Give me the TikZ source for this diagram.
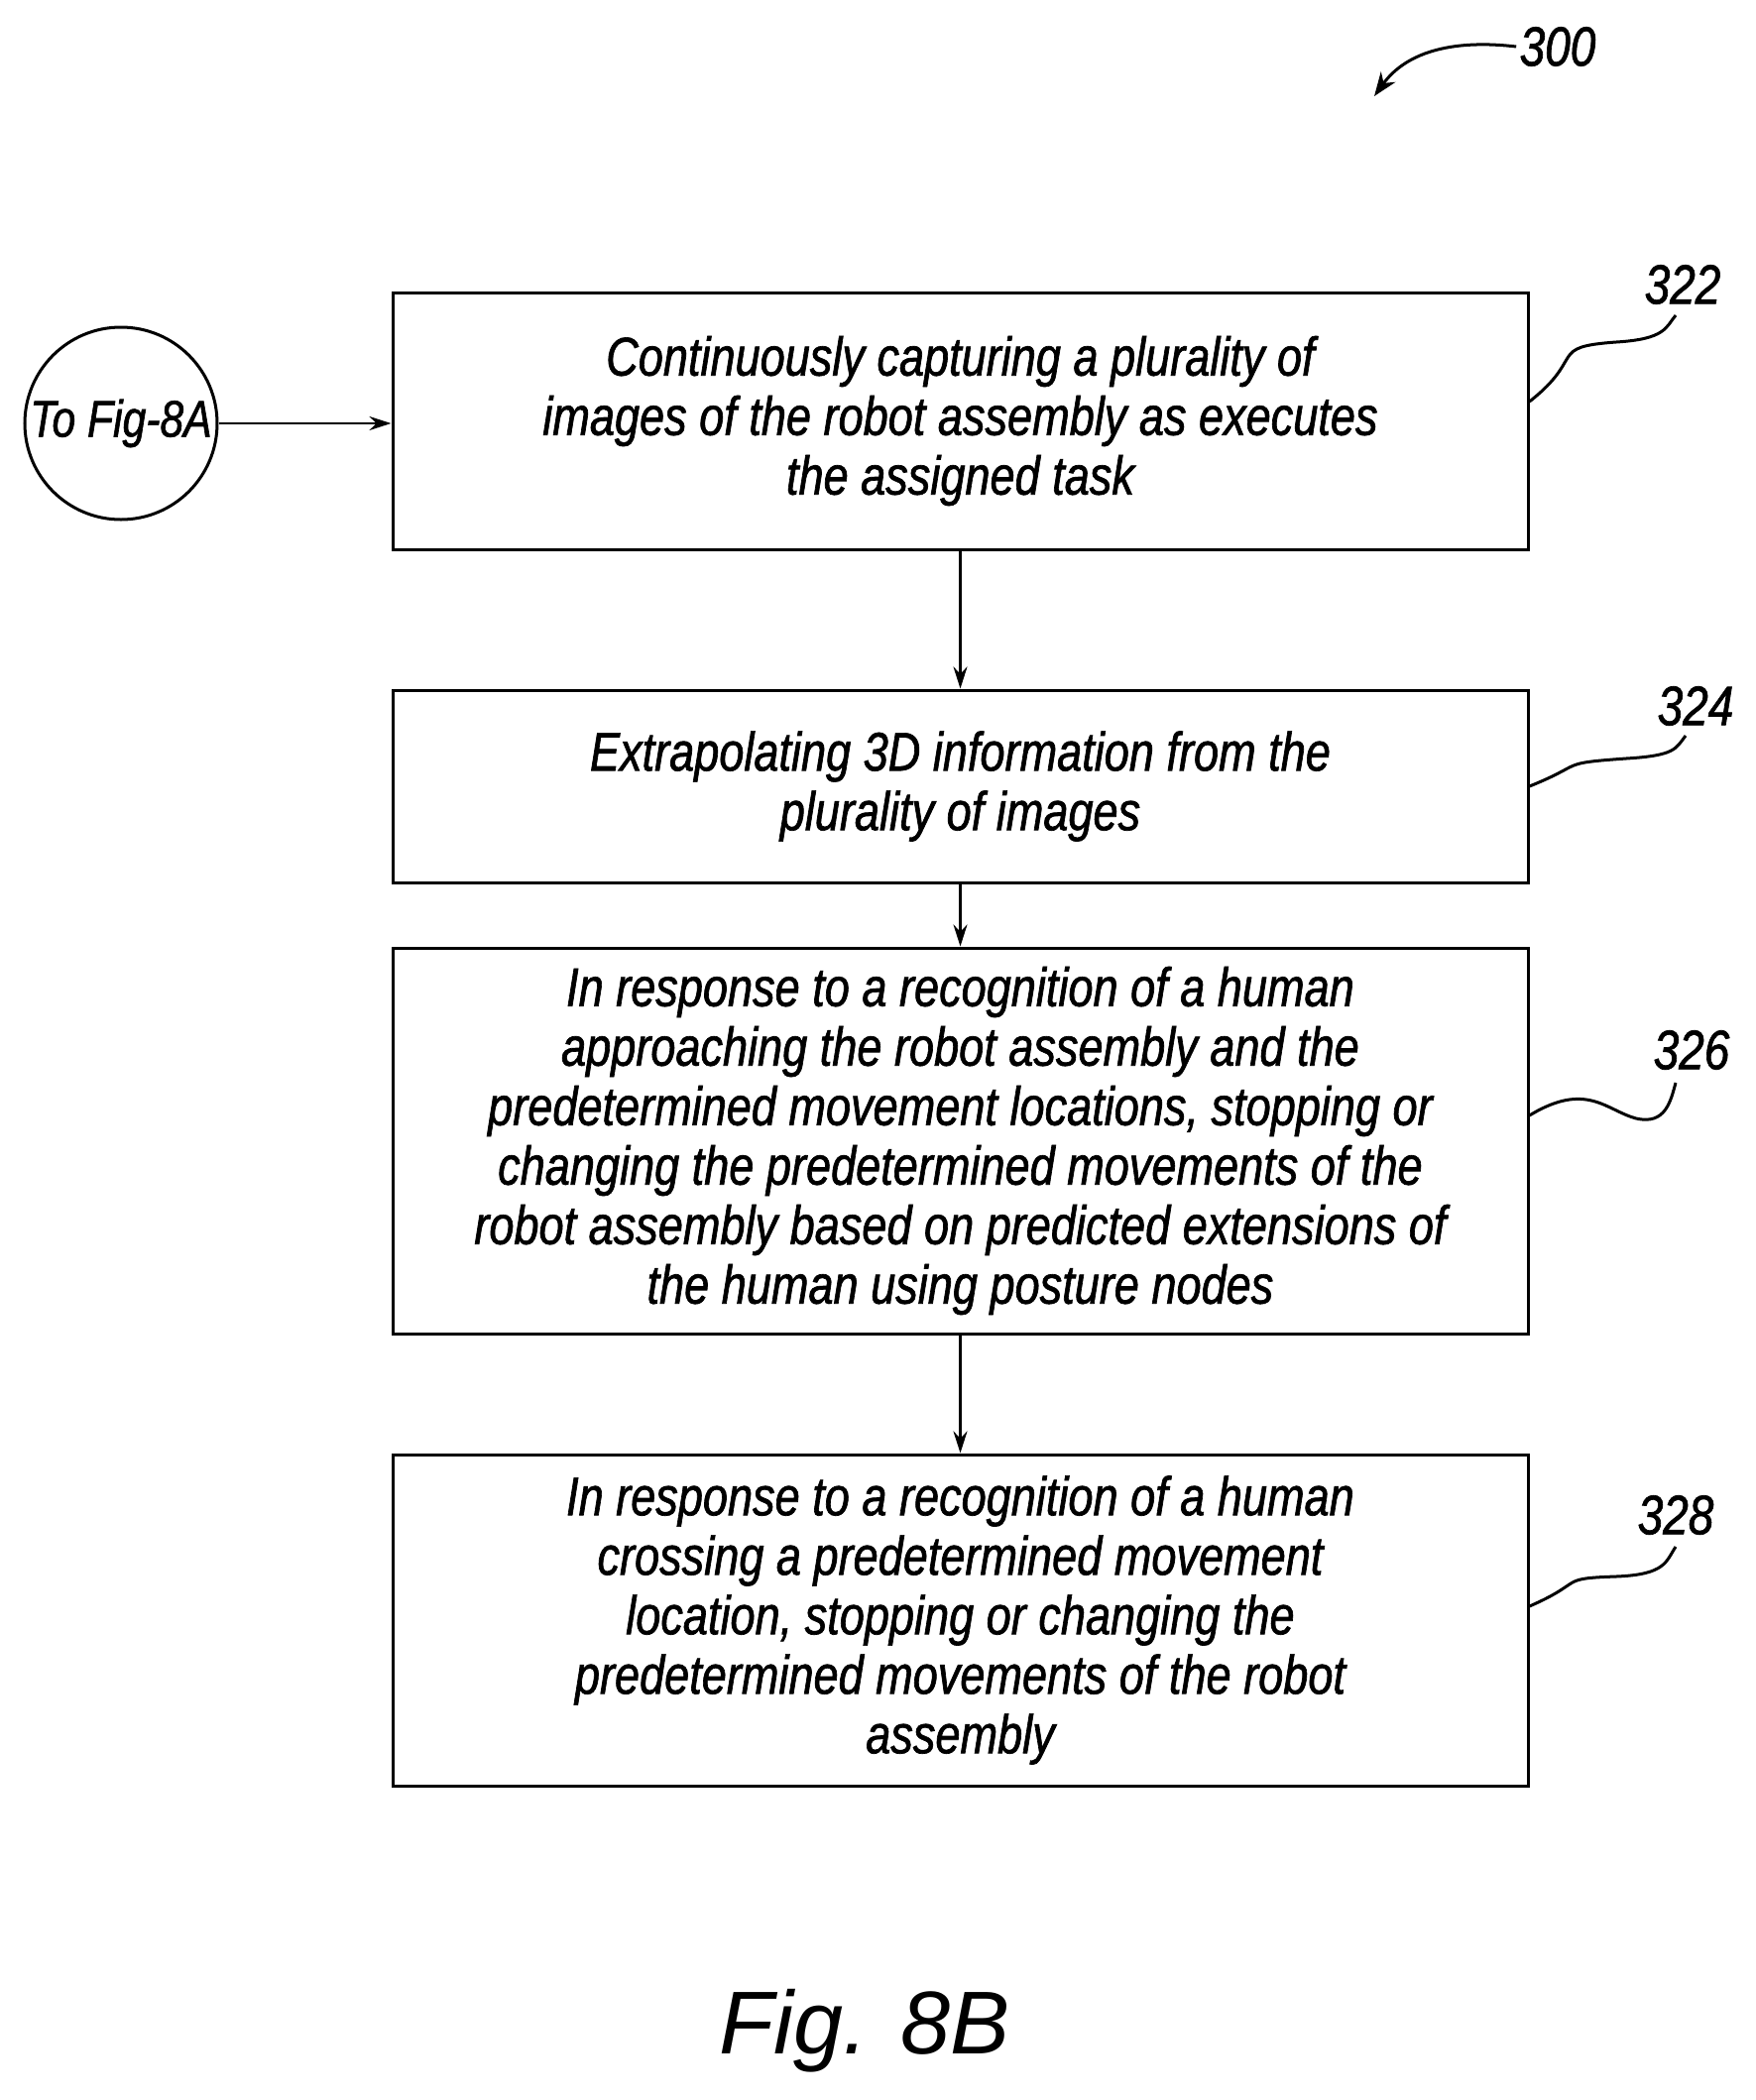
\documentclass[tikz,border=0pt]{standalone}
\usepackage{fontspec}
\setmainfont{Liberation Sans}
\newfontfamily\cond[FakeStretch=0.82,FakeBold=1.2]{Liberation Sans}
\usetikzlibrary{arrows.meta}
\begin{document}
\begin{tikzpicture}[x=1pt,y=-1pt,
 box/.style={draw,line width=3pt,inner sep=0pt,align=center,font=\cond\itshape\fontsize{55}{60}\selectfont},
 arr/.style={line width=2.5pt,-{Stealth[length=22pt,width=14pt]}},
 lab/.style={font=\cond\itshape\fontsize{56}{60}\selectfont},
 sq/.style={line width=3pt}]
\useasboundingbox (0,0) rectangle (1771,2118);
\node[box,minimum width=1145pt,minimum height=259pt] (b1) at (968.5,424.5) {Continuously capturing a plurality of\\images of the robot assembly as executes\\the assigned task};
\node[box,minimum width=1145pt,minimum height=194pt] (b2) at (968.5,793) {Extrapolating 3D information from the\\plurality of images};
\node[box,minimum width=1145pt,minimum height=389pt] (b3) at (968.5,1150.5) {In response to a recognition of a human\\approaching the robot assembly and the\\predetermined movement locations, stopping or\\changing the predetermined movements of the\\robot assembly based on predicted extensions of\\the human using posture nodes};
\node[box,minimum width=1145pt,minimum height=334pt] (b4) at (968.5,1634) {In response to a recognition of a human\\crossing a predetermined movement\\location, stopping or changing the\\predetermined movements of the robot\\assembly};
\node[draw,circle,line width=3pt,minimum size=194pt,inner sep=0pt,font=\cond\itshape\fontsize{52}{56}\selectfont] (c) at (122,427) {To Fig-8A};
\draw[arr] (c) -- (b1.west|-c);
\draw[arr] (b1) -- (b2);
\draw[arr] (b2) -- (b3);
\draw[arr] (b3) -- (b4);
\node[lab] (l322) at (1697,287) {322};
\node[lab] (l324) at (1710,712) {324};
\node[lab] (l326) at (1706,1059) {326};
\node[lab] (l328) at (1690,1528) {328};
\node[lab] (l300) at (1571,47) {300};
\draw[sq] (b1.east|-0,405) .. controls (1600,360) and (1560,350) .. (1630,345) .. controls (1680,342) and (1680,330) .. (1690,318);
\draw[sq] (b2.east|-0,793) .. controls (1600,770) and (1570,770) .. (1640,765) .. controls (1690,762) and (1690,755) .. (1700,742);
\draw[sq] (b3.east|-0,1125) .. controls (1600,1090) and (1620,1120) .. (1650,1128) .. controls (1680,1135) and (1685,1110) .. (1690,1092);
\draw[sq] (b4.east|-0,1620) .. controls (1600,1595) and (1570,1592) .. (1630,1590) .. controls (1680,1588) and (1680,1575) .. (1690,1560);
\coordinate (t300) at (1386,97);
\draw[line width=3pt,-{Stealth[length=24pt,width=18pt]}] (l300.west) .. controls (1470,40) and (1420,50) .. (t300);
\node[font=\fontsize{90}{96}\selectfont\itshape] (fig) at (872,2048) {Fig. 8B};
\end{tikzpicture}
\end{document}
